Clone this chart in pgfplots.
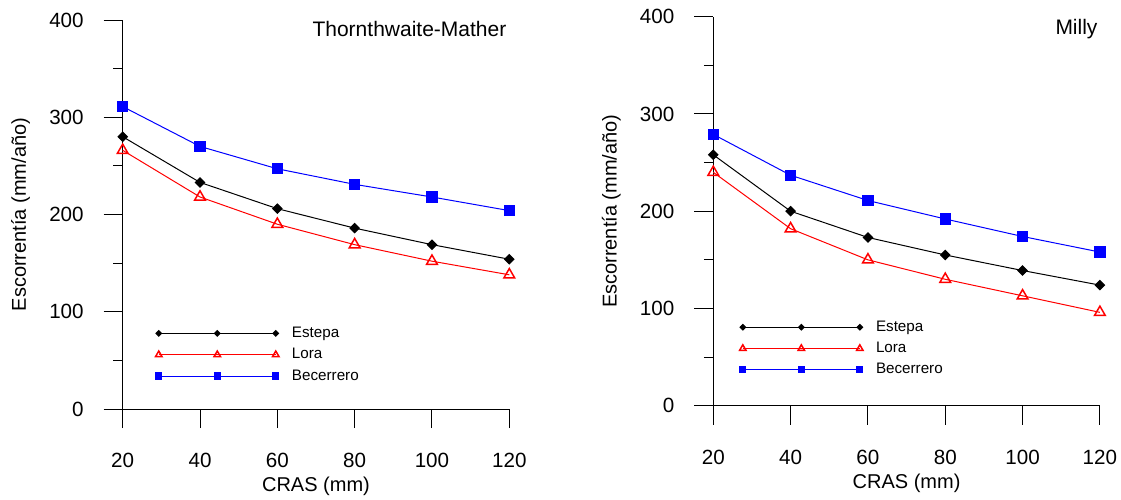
\documentclass[border=0pt]{standalone}
\usepackage{fontspec}
\setmainfont{Liberation Sans}
\usepackage{pgfplots}
\pgfplotsset{compat=1.18}

% CRAS (mm) vs runoff, one table per model
\pgfplotstableread{
cras estepa lora becerrero
20  280 266 311
40  233 218 270
60  206 190 247
80  186 169 231
100 169 152 218
120 154 138 204
}\thornthwaite
\pgfplotstableread{
cras estepa lora becerrero
20  258 240 279
40  200 182 237
60  173 150 211
80  155 130 192
100 139 113 174
120 124  96 158
}\milly

\pgfplotsset{
  panel/.style={
    scale only axis, width=193.3pt, height=194.5pt,
    xmin=20, xmax=120, ymin=0, ymax=400,
    axis lines*=left,
    xtick={20,40,...,120}, ytick={0,100,...,400},
    minor ytick={50,150,250,350},
    tick align=outside,
    major tick length=9.5pt, minor tick length=4.75pt,
    tick style={black, line width=0.5pt},
    axis line style={black, line width=0.5pt},
    ticklabel style={font=\fontsize{10.3}{12}\selectfont},
    xticklabel style={yshift=-9pt},
    yticklabel style={xshift=-6.5pt},
    /pgf/number format/assume math mode=true,
    xlabel={CRAS (mm)}, ylabel={Escorrentía (mm/año)},
    label style={font=\fontsize{10.3}{12}\selectfont},
    every axis x label/.style={at={([yshift=-41.3pt]axis description cs:0.5,0)}, anchor=base},
    every axis y label/.style={at={([xshift=-51pt]axis description cs:0,0.5)}, rotate=90, anchor=center},
    clip=false,
    legend cell align=left,
    legend style={draw=none, fill=none, inner sep=0pt, outer sep=0pt,
      font=\fontsize{7.6}{9}\selectfont, row sep=0.65pt, column sep=5.5pt,
      nodes={inner sep=1pt, text height=6pt, text depth=2pt}},
    legend image code/.code={
      \draw[##1] plot coordinates {(0pt,0pt) (29.25pt,0pt) (58.5pt,0pt)};},
    legend image post style={/tikz/every mark/.append style={scale=0.6}},
  },
  estepa/.style={black, line width=0.5pt, mark=square*, mark size=1.65pt,
    mark options={rotate=45, solid}},
  lora/.style={red, line width=0.5pt, mark=triangle, mark size=3.1pt,
    mark options={line width=0.75pt, solid}},
  becerrero/.style={blue, line width=0.5pt, mark=square*, mark size=2.6pt,
    mark options={solid}},
}

\begin{document}
\begin{tikzpicture}
\useasboundingbox (-61.35pt,-45pt) rectangle (499.15pt,204.5pt);

\begin{axis}[panel, at={(0pt,0pt)}, anchor=south west,
  legend style={at={(axis cs:28.5,88)}, anchor=north west}]
\addplot[estepa] table[x=cras, y=estepa] {\thornthwaite};
\addplot[lora] table[x=cras, y=lora] {\thornthwaite};
\addplot[becerrero] table[x=cras, y=becerrero] {\thornthwaite};
\legend{Estepa, Lora, Becerrero}
\node[anchor=base east, inner sep=0pt, font=\fontsize{10.5}{12}\selectfont]
  at ([yshift=-8.35pt]rel axis cs:0.9933,1) {Thornthwaite-Mather};
\end{axis}

\begin{axis}[panel, at={(295.3pt,1.65pt)}, anchor=south west,
  legend style={at={(axis cs:26.8,91)}, anchor=north west}]
\addplot[estepa] table[x=cras, y=estepa] {\milly};
\addplot[lora] table[x=cras, y=lora] {\milly};
\addplot[becerrero] table[x=cras, y=becerrero] {\milly};
\legend{Estepa, Lora, Becerrero}
\node[anchor=base east, inner sep=0pt, font=\fontsize{10.5}{12}\selectfont]
  at ([yshift=-9pt]rel axis cs:0.9948,1) {Milly};
\end{axis}
\end{tikzpicture}
\end{document}
